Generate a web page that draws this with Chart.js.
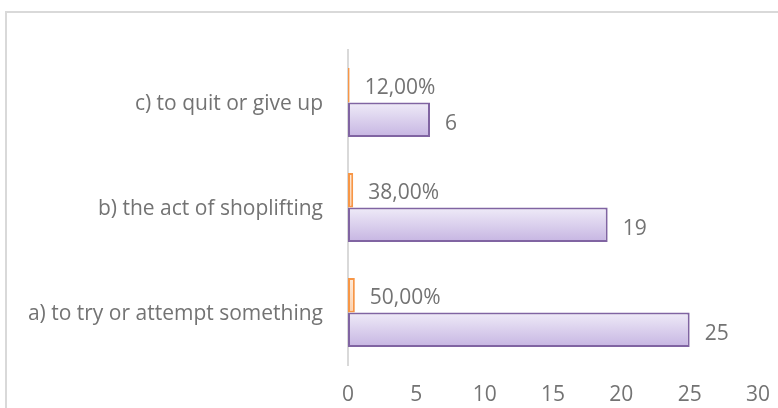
<!DOCTYPE html>
<html>
<head>
<meta charset="utf-8">
<script src="https://cdn.jsdelivr.net/npm/chart.js@4.4.0/dist/chart.umd.min.js"></script>
<style>
  html, body { margin: 0; padding: 0; background: #fff; overflow: hidden; }
  #frame { position: absolute; left: 5px; top: 11px; width: 820px; height: 460px; border: 2px solid #d9d9d9; }
  #wrap { position: absolute; left: 0; top: 0; width: 778px; height: 408px; }
</style>
</head>
<body>
<div id="frame"></div>
<div id="wrap"><canvas id="chart" width="778" height="408"></canvas></div>
<script>
// categories listed top to bottom as in the picture
const categories = ['c) to quit or give up', 'b) the act of shoplifting', 'a) to try or attempt something'];
const counts = [6, 19, 25];
const shares = [0.12, 0.38, 0.50];
const shareLabels = ['12,00%', '38,00%', '50,00%'];
const xTicks = [0, 5, 10, 15, 20, 25, 30];

const FONT = '"Open Sans", "Noto Sans", sans-serif';
const GREY = '#737373';

function barGradient(c, top, bottom, fallback) {
    const el = c.element;
    if (!el || !el.height) return fallback;
    const g = c.chart.ctx.createLinearGradient(0, el.y - el.height / 2, 0, el.y + el.height / 2);
    g.addColorStop(0, top);
    g.addColorStop(1, bottom);
    return g;
}

// value labels drawn just past the end of each bar
const valueLabels = {
    id: 'valueLabels',
    afterDatasetsDraw(chart) {
        const ctx = chart.ctx;
        ctx.save();
        ctx.font = '21px ' + FONT;
        ctx.fillStyle = GREY;
        ctx.textBaseline = 'middle';
        ctx.textAlign = 'left';
        chart.data.datasets.forEach((ds, di) => {
            chart.getDatasetMeta(di).data.forEach((bar, i) => {
                const txt = di === 0 ? shareLabels[i] : String(counts[i]);
                ctx.fillText(txt, bar.x + 15, bar.y + (di === 0 ? 3 : 4));
            });
        });
        ctx.restore();
    }
};

const chart = new Chart(document.getElementById('chart'), {
    type: 'bar',
    data: {
        labels: categories,
        datasets: [{
            label: 'Percentage',
            data: shares,
            borderColor: '#f79646',
            borderWidth: 2,
            borderSkipped: false,
            backgroundColor: c => barGradient(c, '#fdeada', '#fbd0ad', '#fcdcc2')
        }, {
            label: 'Count',
            data: counts,
            borderColor: '#8064a2',
            borderWidth: 2,
            borderSkipped: false,
            backgroundColor: c => barGradient(c, '#efebf8', '#c6b5e2', '#dad0ee')
        }]
    },
    options: {
        indexAxis: 'y',
        responsive: false,
        animation: false,
        layout: { padding: { left: 0, right: 20, top: 50, bottom: 0 } },
        datasets: {
            bar: { barPercentage: 1, categoryPercentage: 0.657 }
        },
        plugins: {
            legend: { display: false },
            tooltip: { enabled: false }
        },
        scales: {
            x: {
                min: 0,
                max: 30,
                afterBuildTicks: s => { s.ticks = xTicks.map(v => ({ value: v })); },
                afterFit: s => { s.height = 43; s.paddingRight = 0; },
                grid: { display: false, drawTicks: false },
                border: { display: false },
                ticks: { color: GREY, font: { family: FONT, size: 21 }, padding: 17 }
            },
            y: {
                afterFit: s => { s.width = 348; },
                grid: { display: false, drawTicks: false },
                border: { display: true, color: '#d9d9d9', width: 2 },
                ticks: { color: GREY, font: { family: FONT, size: 21 }, padding: 25, labelOffset: 2 }
            }
        }
    },
    plugins: [valueLabels]
});
chart.update('none');
</script>
</body>
</html>
